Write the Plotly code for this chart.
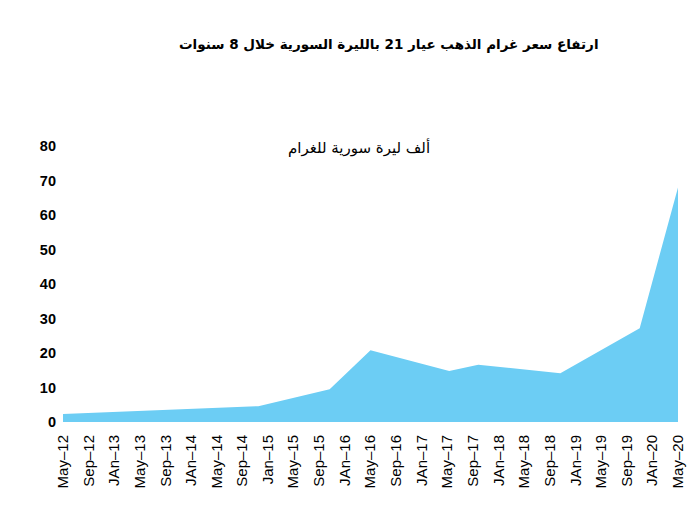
#gold price per gram (21 carat) in Syrian pounds, area chart
import plotly.graph_objects as go

#DATA
dates = ["2012-05-01", "2014-11-15", "2015-10-20", "2016-05-01", "2017-05-10",
         "2017-09-25", "2018-10-20", "2019-11-01", "2020-05-01"]
price = [2.3, 4.6, 9.5, 20.8, 14.8, 16.6, 14.1, 27.2, 68.0]   # thousand SYP per gram

tick_dates = ["2012-05-01", "2012-09-01", "2013-01-01", "2013-05-01", "2013-09-01",
              "2014-01-01", "2014-05-01", "2014-09-01", "2015-01-01", "2015-05-01",
              "2015-09-01", "2016-01-01", "2016-05-01", "2016-09-01", "2017-01-01",
              "2017-05-01", "2017-09-01", "2018-01-01", "2018-05-01", "2018-09-01",
              "2019-01-01", "2019-05-01", "2019-09-01", "2020-01-01", "2020-05-01"]
tick_text = ["May–12", "Sep–12", "JAn–13", "May–13", "Sep–13", "JAn–14", "May–14",
             "Sep–14", "Jan–15", "May–15", "Sep–15", "JAn–16", "May–16", "Sep–16",
             "JAn–17", "May–17", "Sep–17", "JAn–18", "May–18", "Sep–18", "JAn–19",
             "May–19", "Sep–19", "JAn–20", "May–20"]

title_txt = "ارتفاع سعر غرام الذهب عيار 21 بالليرة السورية خلال 8 سنوات"
unit_txt = "ألف ليرة سورية للغرام"

fig = go.Figure()
fig.add_trace(go.Scatter(
    x=dates,
    y=price,
    mode="lines",
    fill="tozeroy",
    fillcolor="#6ccdf4",
    line=dict(width=0, color="#6ccdf4"),
    hoverinfo="x+y"
))

#titles
fig.add_annotation(text="<b>" + title_txt + "</b>", xref="paper", yref="paper",
                   x=0.53, y=1.366, xanchor="center", yanchor="middle", showarrow=False,
                   font=dict(family="DejaVu Sans", size=13.5, color="black"))
fig.add_annotation(text=unit_txt, xref="paper", yref="paper",
                   x=0.481, y=0.996, xanchor="center", yanchor="middle", showarrow=False,
                   font=dict(family="DejaVu Sans", size=15, color="black"))

fig.update_xaxes(type="date", range=["2012-05-01", "2020-05-01"],
                 tickmode="array", tickvals=tick_dates, ticktext=tick_text,
                 tickangle=-90, showgrid=False, zeroline=False, showline=False,
                 ticks="outside", ticklen=6, tickcolor="white",
                 tickfont=dict(family="Liberation Sans", size=15, color="black"))
fig.update_yaxes(range=[0, 80], tickvals=[0, 10, 20, 30, 40, 50, 60, 70, 80],
                 showgrid=False, zeroline=False, showline=False, ticklabelstandoff=6,
                 tickfont=dict(family="Liberation Sans", size=14.5, color="black", weight="bold"))

#page body has 8px margin, so the figure is a bit smaller than the window
fig.update_layout(width=689, height=500, showlegend=False,
                  plot_bgcolor="white", paper_bgcolor="white",
                  margin=dict(l=55, r=19, t=138, b=86))
fig.write_html("out.html")
